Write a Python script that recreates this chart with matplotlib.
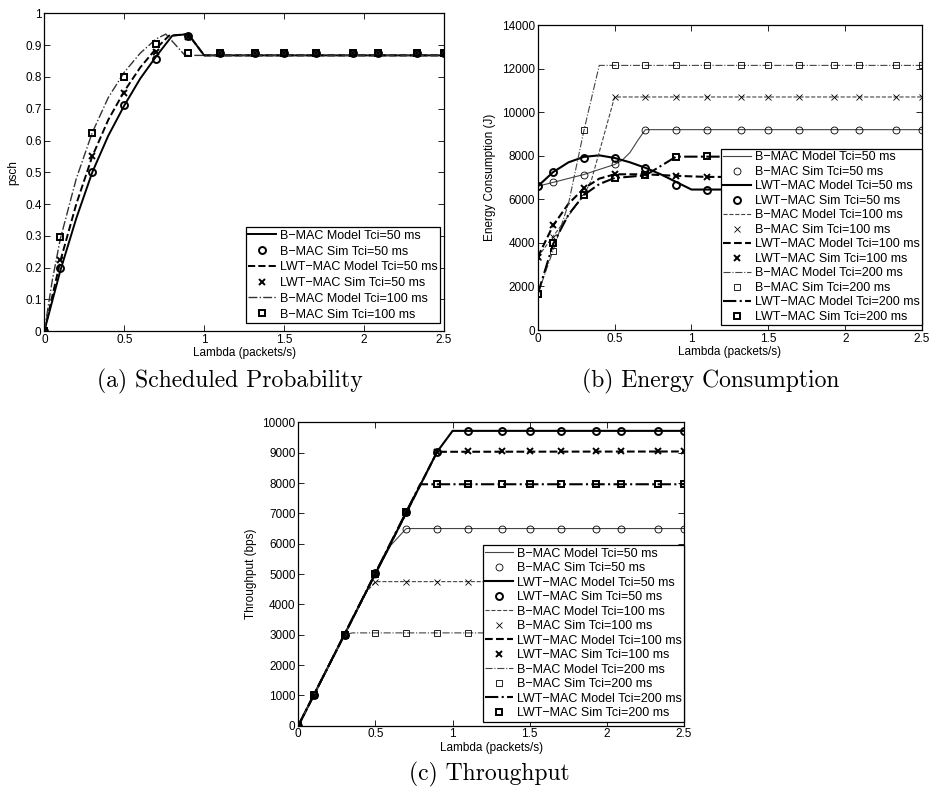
import matplotlib
matplotlib.use("Agg")
import matplotlib.pyplot as plt

plt.rcParams['font.family'] = ['Liberation Sans', 'DejaVu Sans']
plt.rcParams['font.size'] = 8.5
plt.rcParams['xtick.direction'] = 'in'
plt.rcParams['ytick.direction'] = 'in'
plt.rcParams['xtick.top'] = True
plt.rcParams['ytick.right'] = True

# lambda values where the simulations were run
x_sim = [0, 0.1, 0.3, 0.5, 0.7, 0.9, 1.1, 1.32, 1.5, 1.7, 1.93, 2.09, 2.33, 2.5]

# (a) scheduled probability
psch_bmac50_model_x = [0, 0.1, 0.2, 0.3, 0.4, 0.5, 0.6, 0.7, 0.8, 0.9, 1.0, 2.5]
psch_bmac50_model = [0, 0.19, 0.355, 0.50, 0.615, 0.71, 0.795, 0.865, 0.93, 0.935, 0.868, 0.868]
psch_bmac50_sim = [0, 0.2, 0.5, 0.712, 0.857, 0.928, 0.875, 0.875, 0.875, 0.875, 0.875, 0.875, 0.875, 0.875]
psch_lwt50_model_x = [0, 0.1, 0.2, 0.3, 0.4, 0.5, 0.6, 0.7, 0.78, 0.9, 1.0, 2.5]
psch_lwt50_model = [0, 0.22, 0.40, 0.55, 0.665, 0.755, 0.83, 0.89, 0.93, 0.935, 0.868, 0.868]
psch_lwt50_sim = [0, 0.225, 0.55, 0.75, 0.88, 0.925, 0.875, 0.875, 0.875, 0.875, 0.875, 0.875, 0.875, 0.875]
psch_bmac100_model_x = [0, 0.05, 0.1, 0.2, 0.3, 0.4, 0.5, 0.6, 0.7, 0.76, 0.88, 2.5]
psch_bmac100_model = [0, 0.16, 0.29, 0.48, 0.625, 0.735, 0.815, 0.875, 0.92, 0.935, 0.868, 0.868]
psch_bmac100_sim = [0, 0.295, 0.625, 0.80, 0.903, 0.875, 0.875, 0.875, 0.875, 0.875, 0.875, 0.875, 0.875, 0.875]

# (b) energy consumption (J)
en_bmac50_model_x = [0, 0.1, 0.3, 0.5, 0.55, 0.6, 0.65, 0.7, 2.5]
en_bmac50_model = [6600, 6780, 7140, 7600, 7800, 8150, 8700, 9200, 9200]
en_bmac50_sim = [6600, 6780, 7140, 7600, 9200, 9200, 9200, 9200, 9200, 9200, 9200, 9200, 9200, 9200]
en_lwt50_model_x = [0, 0.1, 0.2, 0.3, 0.4, 0.5, 0.6, 0.7, 0.8, 0.9, 1.0, 2.5]
en_lwt50_model = [6600, 7250, 7700, 7950, 8020, 7900, 7700, 7450, 7150, 6800, 6450, 6450]
en_lwt50_sim = [6600, 7250, 7880, 7880, 7450, 6680, 6450, 6450, 6450, 6450, 6450, 6450, 6450, 6450]
en_bmac100_model_x = [0, 0.1, 0.2, 0.3, 0.35, 0.5, 2.5]
en_bmac100_model = [3350, 4300, 5250, 6200, 6900, 10700, 10700]
en_bmac100_sim = [3350, 4250, 6300, 10700, 10700, 10700, 10700, 10700, 10700, 10700, 10700, 10700, 10700, 10700]
en_lwt100_model_x = [0, 0.1, 0.2, 0.3, 0.4, 0.5, 0.7, 0.9, 1.1, 2.5]
en_lwt100_model = [3350, 4800, 5800, 6500, 6950, 7150, 7150, 7080, 7030, 7030]
en_lwt100_sim = [3350, 4820, 6510, 7150, 7150, 7080, 7030, 7030, 7030, 7030, 7030, 7030, 7030, 7030]
en_bmac200_model_x = [0, 0.1, 0.2, 0.3, 0.4, 2.5]
en_bmac200_model = [1650, 3650, 5800, 9150, 12150, 12150]
en_bmac200_sim = [1650, 3640, 9170, 12150, 12150, 12150, 12150, 12150, 12150, 12150, 12150, 12150, 12150, 12150]
en_lwt200_model_x = [0, 0.1, 0.2, 0.3, 0.4, 0.5, 0.7, 0.9, 2.5]
en_lwt200_model = [1650, 3950, 5300, 6200, 6700, 6980, 7100, 7960, 7960]
en_lwt200_sim = [1650, 3980, 6190, 7000, 7110, 7960, 7980, 7980, 7980, 7980, 7980, 7980, 7980, 7980]

# (c) throughput (bps)
th_bmac50_model_x = [0, 0.5, 0.6, 0.7, 2.5]
th_bmac50_model = [0, 5000, 5950, 6500, 6500]
th_bmac50_sim = [0, 1000, 3000, 5000, 6500, 6500, 6500, 6500, 6500, 6500, 6500, 6500, 6500, 6500]
th_lwt50_model_x = [0, 0.9, 1.0, 2.5]
th_lwt50_model = [0, 9030, 9720, 9720]
th_lwt50_sim = [0, 1000, 3000, 5020, 7050, 9030, 9730, 9730, 9730, 9730, 9730, 9730, 9730, 9730]
th_bmac100_model_x = [0, 0.44, 0.5, 2.5]
th_bmac100_model = [0, 4400, 4750, 4750]
th_bmac100_sim = [0, 1000, 3000, 4750, 4750, 4750, 4750, 4750, 4750, 4750, 4750, 4750, 4750, 4750]
th_lwt100_model_x = [0, 0.9, 2.5]
th_lwt100_model = [0, 9030, 9040]
th_lwt100_sim = [0, 1000, 3000, 5000, 7050, 9030, 9050, 9050, 9050, 9050, 9050, 9050, 9050, 9050]
th_bmac200_model_x = [0, 0.3, 0.35, 2.5]
th_bmac200_model = [0, 3000, 3060, 3060]
th_bmac200_sim = [0, 1000, 3000, 3060, 3060, 3060, 3060, 3060, 3060, 3060, 3060, 3060, 3060, 3060]
th_lwt200_model_x = [0, 0.79, 2.5]
th_lwt200_model = [0, 7960, 7960]
th_lwt200_sim = [0, 1000, 3000, 5000, 7050, 7960, 7970, 7970, 7970, 7970, 7970, 7970, 7970, 7970]

labels = ['B\u2212MAC Model Tci=50 ms', 'B\u2212MAC Sim Tci=50 ms',
          'LWT\u2212MAC Model Tci=50 ms', 'LWT\u2212MAC Sim Tci=50 ms',
          'B\u2212MAC Model Tci=100 ms', 'B\u2212MAC Sim Tci=100 ms',
          'LWT\u2212MAC Model Tci=100 ms', 'LWT\u2212MAC Sim Tci=100 ms',
          'B\u2212MAC Model Tci=200 ms', 'B\u2212MAC Sim Tci=200 ms',
          'LWT\u2212MAC Model Tci=200 ms', 'LWT\u2212MAC Sim Tci=200 ms']

thin = dict(color='#444444', lw=0.8)
thick = dict(color='black', lw=1.5)
thin_m = dict(ls='none', mfc='none', mec='black', mew=0.6, ms=5)
thick_m = dict(ls='none', mfc='none', mec='black', mew=1.4, ms=5)

fig = plt.figure(figsize=(9.31, 7.92), dpi=100)
ax_a = fig.add_axes([0.0476, 0.582, 0.4293, 0.401])
ax_b = fig.add_axes([0.5776, 0.5833, 0.4128, 0.385])
ax_c = fig.add_axes([0.3204, 0.0837, 0.4143, 0.383])

# ---- (a)
ax_a.plot(psch_bmac50_model_x, psch_bmac50_model, '-', color='black', lw=1.4, label=labels[0])
ax_a.plot(x_sim, psch_bmac50_sim, marker='o', **thick_m, label=labels[1])
ax_a.plot(psch_lwt50_model_x, psch_lwt50_model, '--', color='black', lw=1.4, label=labels[2])
ax_a.plot(x_sim, psch_lwt50_sim, marker='x', **thick_m, label=labels[3])
ax_a.plot(psch_bmac100_model_x, psch_bmac100_model, '-.', color='#333333', lw=1.0, label=labels[4])
ax_a.plot(x_sim, psch_bmac100_sim, marker='s', **thick_m, label=labels[5])
ax_a.set_ylim(0, 1)
ax_a.set_yticks([0, 0.1, 0.2, 0.3, 0.4, 0.5, 0.6, 0.7, 0.8, 0.9, 1])
ax_a.set_yticklabels(['0', '0.1', '0.2', '0.3', '0.4', '0.5', '0.6', '0.7', '0.8', '0.9', '1'])
ax_a.set_ylabel('psch')

# ---- (b) and (c)
series_b = [
    (en_bmac50_model_x, en_bmac50_model, en_bmac50_sim, en_lwt50_model_x, en_lwt50_model, en_lwt50_sim),
    (en_bmac100_model_x, en_bmac100_model, en_bmac100_sim, en_lwt100_model_x, en_lwt100_model, en_lwt100_sim),
    (en_bmac200_model_x, en_bmac200_model, en_bmac200_sim, en_lwt200_model_x, en_lwt200_model, en_lwt200_sim),
]
series_c = [
    (th_bmac50_model_x, th_bmac50_model, th_bmac50_sim, th_lwt50_model_x, th_lwt50_model, th_lwt50_sim),
    (th_bmac100_model_x, th_bmac100_model, th_bmac100_sim, th_lwt100_model_x, th_lwt100_model, th_lwt100_sim),
    (th_bmac200_model_x, th_bmac200_model, th_bmac200_sim, th_lwt200_model_x, th_lwt200_model, th_lwt200_sim),
]
styles = [('-', 'o'), ('--', 'x'), ('-.', 's')]

for ax, series in [(ax_b, series_b), (ax_c, series_c)]:
    for i, (bx, by, bsim, lx, ly, lsim) in enumerate(series):
        ls, mk = styles[i]
        ax.plot(bx, by, ls, **thin, label=labels[4 * i])
        ax.plot(x_sim, bsim, marker=mk, **thin_m, label=labels[4 * i + 1])
        ax.plot(lx, ly, ls, **thick, label=labels[4 * i + 2])
        ax.plot(x_sim, lsim, marker=mk, **thick_m, label=labels[4 * i + 3])

ax_b.set_ylim(0, 14000)
ax_b.set_yticks(range(0, 14001, 2000))
ax_b.set_ylabel('Energy Consumption (J)')
ax_c.set_ylim(0, 10000)
ax_c.set_yticks(range(0, 10001, 1000))
ax_c.set_ylabel('Throughput (bps)')

# legend anchor (lower right corner, axes fraction) and row spacing
leg_pos = {ax_a: ((0.99, 0.025), 0.3), ax_b: ((1.0, 0.015), 0.2), ax_c: ((1.0, 0.013), 0.2)}

for ax in (ax_a, ax_b, ax_c):
    ax.set_xlim(0, 2.5)
    ax.set_xticks([0, 0.5, 1, 1.5, 2, 2.5])
    ax.set_xticklabels(['0', '0.5', '1', '1.5', '2', '2.5'])
    ax.set_xlabel('Lambda (packets/s)', labelpad=1)
    ax.tick_params(length=4, width=0.6, pad=2)
    for s in ax.spines.values():
        s.set_linewidth(0.9)
    anchor, spacing = leg_pos[ax]
    leg = ax.legend(loc='lower right', bbox_to_anchor=anchor, fontsize=9, frameon=True,
                    fancybox=False, edgecolor='black', framealpha=1, labelspacing=spacing,
                    handlelength=2.2, handletextpad=0.3, borderpad=0.2,
                    borderaxespad=0)
    leg.get_frame().set_linewidth(0.9)

cap = dict(family='cmr10', fontsize=17, ha='center', va='center')
fig.text(0.247, 0.518, '(a) Scheduled Probability', **cap)
fig.text(0.763, 0.518, '(b) Energy Consumption', **cap)
fig.text(0.526, 0.022, '(c) Throughput', **cap)

fig.savefig('out.png', dpi=100)
